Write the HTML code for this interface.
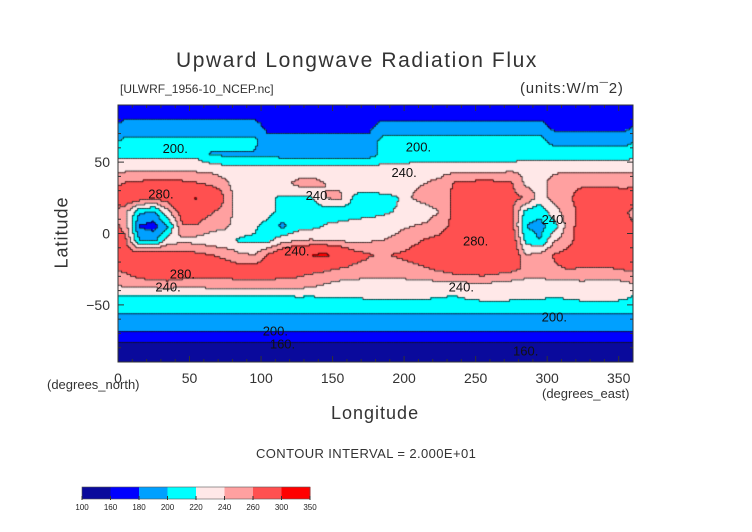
<!DOCTYPE html>
<html><head><meta charset="utf-8"><style>
body{margin:0;background:#fff;}
#wrap{position:relative;width:752px;height:532px;overflow:hidden;font-family:"Liberation Sans",sans-serif;color:#222;}
.t{position:absolute;white-space:nowrap;}
</style></head><body>
<div id="wrap">
<div class="t" style="left:176px;top:49px;font-size:21px;letter-spacing:1.6px;color:#333;">Upward Longwave Radiation Flux</div>
<div class="t" style="left:120px;top:82px;font-size:12px;color:#333;">[ULWRF_1956-10_NCEP.nc]</div>
<div class="t" style="left:520px;top:80px;font-size:15px;letter-spacing:0.8px;color:#333;">(units:W/m¯2)</div>
<canvas id="cv" width="752" height="532" style="position:absolute;left:0;top:0"></canvas>
<svg id="sv" width="752" height="532" style="position:absolute;left:0;top:0"></svg>
<div class="t" style="left:26px;top:222px;font-size:18px;color:#333;transform:rotate(-90deg);letter-spacing:1px;">Latitude</div>
<div class="t" style="left:47px;top:377px;font-size:13px;color:#333;">(degrees_north)</div>
<div class="t" style="left:331px;top:403px;font-size:18px;color:#333;letter-spacing:1px;">Longitude</div>
<div class="t" style="left:542px;top:386px;font-size:13px;color:#333;">(degrees_east)</div>
<div class="t" style="left:256px;top:446px;font-size:13px;color:#333;letter-spacing:0.4px;">CONTOUR INTERVAL = 2.000E+01</div>
</div>
<script>
const levels=[100,160,180,200,220,240,260,300,350];
const colors=["#0a0a9c","#0000ff","#00a0ff","#00ffff","#ffe8e8","#ffa0a0","#ff5050","#ff0000"];
const lats=[85,75,65,55,45,35,25,15,5,-5,-15,-25,-35,-45,-55,-65,-75,-85];
const xTicks=[0,50,100,150,200,250,300,350];
const yTicks=[50,0,-50];
function fill(v){return Array(36).fill(v);}
function seg(parts){let r=[];parts.forEach(p=>{for(let i=0;i<p[1];i++)r.push(p[0]);});return r;}
const r85=fill(172);
const r75=seg([[188,10],[174,8],[186,12],[174,6]]);
const r65=seg([[205,10],[185,8],[208,12],[192,6]]);
const r55=seg([[215,6],[198,5],[192,7],[205,10],[212,8]]);
const r45=seg([[235,7],[228,13],[232,7],[236,9]]);
const r35=[262,265,268,268,266,262,255,245,226,222,224,232,245,248,240,236,232,230,235,236,238,240,245,262,265,268,266,262,236,232,248,252,255,255,252,250];
const r25=[278,272,268,272,300,302,295,258,225,220,222,218,216,218,240,245,216,212,214,218,240,245,248,265,270,272,270,265,260,230,248,255,275,278,280,280];
const r15=[245,205,195,235,270,272,262,250,232,230,228,210,200,206,210,208,212,214,216,222,230,234,240,265,270,272,270,266,212,206,232,250,268,275,272,262];
const r05=[252,178,172,200,258,258,248,244,228,224,212,196,210,214,222,226,228,230,232,235,240,242,250,268,275,278,276,270,200,192,210,252,270,278,280,272];
const rm05=[265,200,195,228,236,232,228,222,218,216,214,232,240,242,240,238,236,238,240,245,255,262,268,282,286,288,286,280,215,200,238,252,276,282,282,275];
const rm15=[272,275,278,274,270,266,260,256,244,240,262,284,292,302,306,292,270,262,258,262,266,270,275,288,292,294,290,286,240,245,262,268,280,284,282,276];
const rm25=[264,276,294,296,282,274,272,270,270,270,272,272,270,266,264,258,254,252,252,252,254,258,264,272,276,276,272,266,256,254,258,260,258,256,258,262];
const rm35=[248,250,250,252,250,250,252,255,256,256,255,254,252,248,240,236,234,234,234,234,234,234,236,236,238,240,236,234,232,232,234,235,236,235,234,236];
const rm45=[214,216,217,216,214,214,216,217,216,214,216,217,218,218,219,219,220,222,222,224,224,222,220,218,222,225,226,224,222,222,220,222,225,226,226,222];
const rm55=fill(202);
const rm65=fill(188);
const rm75=fill(163);
const rm85=fill(145);
const field=[r85,r75,r65,r55,r45,r35,r25,r15,r05,rm05,rm15,rm25,rm35,rm45,rm55,rm65,rm75,rm85];
const contourLabels=[["200.",40,60],["280.",30,28],["240.",125,-12],["280.",45,-28],["240.",35,-37],["200.",110,-68],["160.",115,-77],["240.",140,27],["200.",210,61],["240.",200,43],["280.",250,-5],["240.",240,-37],["240.",305,10],["200.",305,-58],["160.",285,-82]];

const X0=118,X1=633,Y0=105,Y1=362;
const xs=lon=>X0+(lon/360)*(X1-X0);
const ys=lat=>Y0+((90-lat)/180)*(Y1-Y0);
function colorOf(v){for(let i=0;i<colors.length;i++){if(v<levels[i+1])return colors[i];}return colors[colors.length-1];}
function val(lon,lat){
  let fi=(lon-5)/10; let i0=Math.floor(fi); let tx=fi-i0;
  let a=((i0%36)+36)%36,b=(a+1)%36;
  let fj=(85-lat)/10; fj=Math.max(0,Math.min(lats.length-1,fj));
  let j0=Math.min(lats.length-2,Math.floor(fj)); let ty=fj-j0;
  const f=field;
  return (f[j0][a]*(1-tx)+f[j0][b]*tx)*(1-ty)+(f[j0+1][a]*(1-tx)+f[j0+1][b]*tx)*ty;
}
const cv=document.getElementById('cv');const ctx=cv.getContext('2d');
const st=1.25;
for(let lon=0;lon<360;lon+=st){for(let lat=90;lat>-90;lat-=st){
  ctx.fillStyle=colorOf(val(lon+st/2,lat-st/2));
  const x=xs(lon),y=ys(lat);
  ctx.fillRect(Math.floor(x),Math.floor(y),Math.ceil(xs(lon+st))-Math.floor(x),Math.ceil(ys(lat-st))-Math.floor(y));
}}
ctx.fillStyle="#111";
for(let lon=0;lon<360;lon+=st){for(let lat=90;lat>-90+st;lat-=st){
  const c1=colorOf(val(lon+st/2,lat-st/2)),c2=colorOf(val(lon+st/2,lat-1.5*st)),c3=colorOf(val(lon+1.5*st,lat-st/2));
  if(c1!==c2)ctx.fillRect(xs(lon),ys(lat-st)-0.4,xs(lon+st)-xs(lon),0.8);
  if(lon+st<360&&c1!==c3)ctx.fillRect(xs(lon+st)-0.4,ys(lat),0.8,ys(lat-st)-ys(lat));
}}
const NS="http://www.w3.org/2000/svg";const sv=document.getElementById('sv');
function mk(tag,attrs,txt){const e=document.createElementNS(NS,tag);for(const k in attrs)e.setAttribute(k,attrs[k]);if(txt!==undefined)e.textContent=txt;sv.appendChild(e);return e;}
const frame=mk('rect',{x:X0,y:Y0,width:X1-X0,height:Y1-Y0,fill:'none',stroke:'#333','stroke-width':1});


for(let lon=0;lon<=360;lon+=10){const L=lon%50===0?6:3;
  mk('line',{x1:xs(lon),x2:xs(lon),y1:Y1,y2:Y1-L,stroke:'#333'});
  mk('line',{x1:xs(lon),x2:xs(lon),y1:Y0,y2:Y0+L,stroke:'#333'});}
for(let lat=-90;lat<=90;lat+=10){const L=lat%50===0?6:3;
  mk('line',{x1:X0,x2:X0+L,y1:ys(lat),y2:ys(lat),stroke:'#333'});
  mk('line',{x1:X1,x2:X1-L,y1:ys(lat),y2:ys(lat),stroke:'#333'});}
xTicks.forEach(v=>{const t=mk('text',{x:xs(v),y:383,'text-anchor':'middle','font-size':14,fill:'#333','font-family':'Liberation Sans'},v);
  
  });
yTicks.forEach(v=>{const t=mk('text',{x:110,y:ys(v)+5,'text-anchor':'end','font-size':14,fill:'#333','font-family':'Liberation Sans'},v===-50?'−50':v);
  
  });
contourLabels.forEach(c=>{const t=mk('text',{x:xs(c[1]),y:ys(c[2])+5,'text-anchor':'middle','font-size':13,fill:'#111','font-family':'Liberation Sans'},c[0]);
  
  });
const CB0=82,CB1=310,CBy=487,CBh=12;const w=(CB1-CB0)/colors.length;
colors.forEach((c,i)=>{const r=mk('rect',{x:CB0+i*w,y:CBy,width:w+0.5,height:CBh,fill:c});
  
  });
mk('rect',{x:CB0,y:CBy,width:CB1-CB0,height:CBh,fill:'none',stroke:'#555','stroke-width':0.6});
levels.forEach((l,i)=>{mk('line',{x1:CB0+i*w,x2:CB0+i*w,y1:CBy+CBh-3,y2:CBy+CBh+1,stroke:'#333'});
  const t=mk('text',{x:CB0+i*w,y:510,'text-anchor':'middle','font-size':8,fill:'#222','font-family':'Liberation Sans'},l);
  
  });
</script>
</body></html>
